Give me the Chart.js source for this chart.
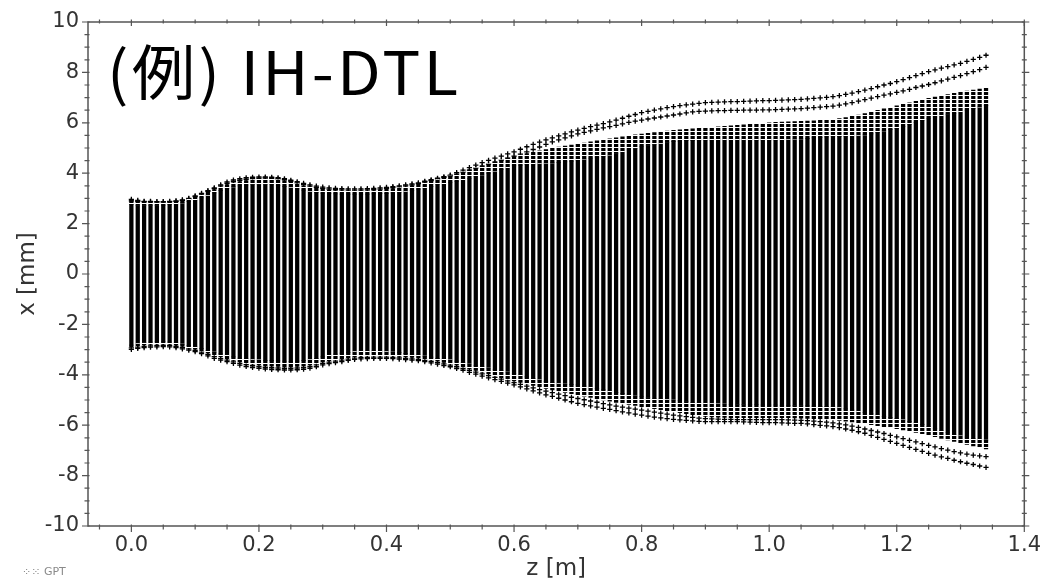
<!DOCTYPE html>
<html>
<head>
<meta charset="utf-8">
<script src="https://cdn.jsdelivr.net/npm/chart.js@4.4.1/dist/chart.umd.min.js"></script>
<style>
  html, body { margin: 0; padding: 0; background: #fff; }
  #wrap { position: relative; width: 1048px; height: 583px; }
  #title { position: absolute; left: 107px; top: 39px; font-family: "Noto Sans CJK JP", "Noto Sans", sans-serif;
           font-size: 60px; line-height: 1; color: #000; white-space: nowrap; letter-spacing: 3px;
           transform: scaleX(1.06); transform-origin: left top; }
  #logo { position: absolute; left: 22px; top: 565px; font: 11px "DejaVu Sans", sans-serif; color: #8a8a8a; white-space: nowrap; }
</style>
</head>
<body>
<div id="wrap">
  <canvas id="chart" width="1048" height="583"></canvas>
  <div id="title">(例) IH-DTL</div>
  <div id="logo">⁘⁙ GPT</div>
</div>
<script>
// z steps of the tracked bunch, one column every 0.01 m from z = 0
const zStep = 0.01;

// solid core of each column, x [mm]
const coreTop = [
  2.75, 2.72, 2.72, 2.72, 2.72, 2.73, 2.75, 2.78, 2.82, 2.88,
  2.94, 3.02, 3.12, 3.22, 3.32, 3.40, 3.46, 3.50, 3.53, 3.55,
  3.55, 3.55, 3.54, 3.52, 3.48, 3.44, 3.38, 3.33, 3.28, 3.24,
  3.21, 3.19, 3.18, 3.17, 3.17, 3.17, 3.17, 3.17, 3.18, 3.19,
  3.20, 3.22, 3.25, 3.28, 3.32, 3.37, 3.42, 3.48, 3.54, 3.58,
  3.62, 3.68, 3.74, 3.80, 3.86, 3.93, 4.00, 4.08, 4.15, 4.22,
  4.29, 4.32, 4.35, 4.37, 4.39, 4.40, 4.41, 4.42, 4.45, 4.48,
  4.52, 4.56, 4.60, 4.64, 4.68, 4.72, 4.78, 4.85, 4.92, 4.98,
  5.05, 5.10, 5.14, 5.18, 5.22, 5.25, 5.27, 5.29, 5.30, 5.31,
  5.32, 5.32, 5.33, 5.33, 5.33, 5.33, 5.33, 5.33, 5.32, 5.32,
  5.32, 5.32, 5.33, 5.34, 5.35, 5.36, 5.38, 5.40, 5.42, 5.44,
  5.45, 5.46, 5.47, 5.49, 5.50, 5.52, 5.56, 5.62, 5.68, 5.73,
  5.78, 5.86, 5.94, 6.02, 6.10, 6.18, 6.23, 6.28, 6.33, 6.38,
  6.44, 6.50, 6.56, 6.62, 6.68
];
const coreBot = [
  -2.82, -2.76, -2.72, -2.70, -2.69, -2.69, -2.70, -2.73, -2.78, -2.84,
  -2.90, -2.96, -3.03, -3.10, -3.17, -3.23, -3.29, -3.34, -3.37, -3.40,
  -3.41, -3.43, -3.44, -3.45, -3.46, -3.47, -3.46, -3.44, -3.40, -3.35,
  -3.29, -3.23, -3.18, -3.14, -3.11, -3.08, -3.07, -3.06, -3.06, -3.07,
  -3.08, -3.10, -3.12, -3.15, -3.18, -3.22, -3.26, -3.30, -3.35, -3.38,
  -3.41, -3.46, -3.52, -3.57, -3.62, -3.68, -3.73, -3.78, -3.84, -3.89,
  -3.94, -4.01, -4.08, -4.14, -4.20, -4.27, -4.32, -4.35, -4.37, -4.39,
  -4.40, -4.45, -4.50, -4.55, -4.60, -4.65, -4.70, -4.75, -4.80, -4.84,
  -4.87, -4.90, -4.93, -4.96, -4.98, -5.00, -5.03, -5.06, -5.09, -5.11,
  -5.13, -5.14, -5.15, -5.16, -5.17, -5.18, -5.18, -5.19, -5.19, -5.20,
  -5.20, -5.20, -5.21, -5.21, -5.22, -5.22, -5.23, -5.24, -5.25, -5.25,
  -5.26, -5.30, -5.35, -5.40, -5.45, -5.50, -5.55, -5.60, -5.65, -5.69,
  -5.73, -5.79, -5.85, -5.91, -5.97, -6.04, -6.12, -6.20, -6.28, -6.36,
  -6.42, -6.47, -6.52, -6.56, -6.59
];

// edge of the dense marker fringe just outside the core
const fringeTop = [
  2.92, 2.85, 2.85, 2.85, 2.82, 2.82, 2.84, 2.86, 2.90, 2.96,
  3.05, 3.14, 3.24, 3.35, 3.46, 3.55, 3.62, 3.67, 3.71, 3.74,
  3.76, 3.77, 3.76, 3.74, 3.70, 3.64, 3.57, 3.50, 3.45, 3.40,
  3.36, 3.33, 3.31, 3.30, 3.29, 3.29, 3.29, 3.30, 3.31, 3.33,
  3.36, 3.39, 3.42, 3.46, 3.51, 3.56, 3.62, 3.68, 3.75, 3.82,
  3.89, 3.97, 4.05, 4.13, 4.21, 4.29, 4.37, 4.45, 4.53, 4.60,
  4.66, 4.72, 4.78, 4.84, 4.89, 4.94, 4.99, 5.04, 5.08, 5.12,
  5.16, 5.20, 5.24, 5.28, 5.32, 5.36, 5.40, 5.44, 5.48, 5.52,
  5.55, 5.58, 5.61, 5.64, 5.67, 5.70, 5.72, 5.74, 5.76, 5.78,
  5.80, 5.82, 5.84, 5.86, 5.88, 5.90, 5.92, 5.94, 5.96, 5.98,
  6.00, 6.02, 6.03, 6.04, 6.05, 6.06, 6.07, 6.08, 6.10, 6.12,
  6.14, 6.17, 6.21, 6.26, 6.31, 6.37, 6.43, 6.49, 6.55, 6.61,
  6.67, 6.73, 6.79, 6.85, 6.91, 6.97, 7.02, 7.07, 7.12, 7.17,
  7.22, 7.26, 7.30, 7.34, 7.38
];
const fringeBot = [
  -2.88, -2.84, -2.81, -2.79, -2.78, -2.78, -2.79, -2.82, -2.87, -2.92,
  -2.98, -3.05, -3.13, -3.21, -3.29, -3.36, -3.43, -3.49, -3.54, -3.58,
  -3.61, -3.64, -3.66, -3.67, -3.68, -3.68, -3.67, -3.65, -3.61, -3.55,
  -3.49, -3.44, -3.40, -3.36, -3.32, -3.28, -3.26, -3.25, -3.24, -3.24,
  -3.24, -3.25, -3.27, -3.29, -3.31, -3.34, -3.37, -3.41, -3.46, -3.51,
  -3.56, -3.62, -3.69, -3.76, -3.83, -3.90, -3.97, -4.04, -4.11, -4.18,
  -4.24, -4.30, -4.36, -4.42, -4.48, -4.54, -4.60, -4.65, -4.70, -4.75,
  -4.80, -4.85, -4.90, -4.95, -5.00, -5.05, -5.10, -5.14, -5.18, -5.22,
  -5.26, -5.30, -5.34, -5.38, -5.42, -5.46, -5.50, -5.54, -5.58, -5.62,
  -5.65, -5.67, -5.68, -5.69, -5.70, -5.70, -5.70, -5.70, -5.70, -5.70,
  -5.70, -5.70, -5.70, -5.70, -5.71, -5.72, -5.73, -5.74, -5.75, -5.76,
  -5.78, -5.81, -5.84, -5.87, -5.90, -5.94, -5.98, -6.02, -6.06, -6.10,
  -6.14, -6.19, -6.24, -6.29, -6.34, -6.40, -6.46, -6.52, -6.58, -6.64,
  -6.70, -6.76, -6.82, -6.88, -6.94
];

// outermost particle tracks (halo), upper side
const haloTop1 = [
  2.96, 2.92, 2.88, 2.88, 2.87, 2.87, 2.88, 2.90, 2.94, 3.00,
  3.10, 3.20, 3.31, 3.42, 3.54, 3.65, 3.73, 3.78, 3.82, 3.84,
  3.85, 3.85, 3.84, 3.82, 3.78, 3.72, 3.66, 3.60, 3.54, 3.49,
  3.45, 3.42, 3.40, 3.39, 3.38, 3.38, 3.38, 3.39, 3.40, 3.42,
  3.44, 3.47, 3.50, 3.54, 3.58, 3.62, 3.68, 3.74, 3.80, 3.86,
  3.92, 4.02, 4.12, 4.22, 4.32, 4.42, 4.51, 4.60, 4.68, 4.77,
  4.85, 4.95, 5.05, 5.14, 5.23, 5.32, 5.40, 5.48, 5.56, 5.64,
  5.71, 5.78, 5.85, 5.91, 5.97, 6.04, 6.11, 6.18, 6.26, 6.33,
  6.40, 6.45, 6.50, 6.55, 6.60, 6.64, 6.68, 6.71, 6.74, 6.77,
  6.80, 6.81, 6.82, 6.83, 6.84, 6.84, 6.85, 6.86, 6.87, 6.88,
  6.88, 6.89, 6.90, 6.91, 6.92, 6.93, 6.95, 6.97, 6.99, 7.01,
  7.04, 7.08, 7.13, 7.18, 7.24, 7.30, 7.36, 7.43, 7.50, 7.56,
  7.63, 7.71, 7.79, 7.87, 7.95, 8.03, 8.10, 8.17, 8.23, 8.30,
  8.36, 8.44, 8.52, 8.60, 8.68
];
const haloTop2 = [
  2.90, 2.88, 2.86, 2.86, 2.85, 2.85, 2.86, 2.88, 2.92, 2.98,
  3.07, 3.17, 3.28, 3.39, 3.50, 3.60, 3.67, 3.72, 3.76, 3.79,
  3.80, 3.81, 3.80, 3.78, 3.74, 3.68, 3.62, 3.55, 3.49, 3.44,
  3.40, 3.37, 3.35, 3.34, 3.33, 3.33, 3.33, 3.34, 3.35, 3.37,
  3.40, 3.43, 3.46, 3.50, 3.54, 3.59, 3.65, 3.71, 3.77, 3.83,
  3.89, 3.96, 4.04, 4.12, 4.20, 4.28, 4.36, 4.44, 4.52, 4.60,
  4.68, 4.76, 4.85, 4.94, 5.04, 5.14, 5.24, 5.32, 5.40, 5.48,
  5.56, 5.62, 5.68, 5.74, 5.80, 5.85, 5.90, 5.96, 6.02, 6.07,
  6.11, 6.15, 6.19, 6.23, 6.27, 6.31, 6.35, 6.39, 6.43, 6.45,
  6.46, 6.47, 6.48, 6.48, 6.49, 6.49, 6.50, 6.50, 6.50, 6.51,
  6.51, 6.52, 6.53, 6.54, 6.55, 6.56, 6.58, 6.60, 6.62, 6.64,
  6.66, 6.70, 6.75, 6.80, 6.86, 6.92, 6.98, 7.04, 7.10, 7.15,
  7.21, 7.27, 7.33, 7.40, 7.46, 7.52, 7.59, 7.66, 7.73, 7.80,
  7.87, 7.95, 8.03, 8.11, 8.20
];

// outermost particle tracks (halo), lower side
const haloBot1 = [
  -2.99, -2.95, -2.92, -2.90, -2.89, -2.88, -2.89, -2.92, -2.97, -3.02,
  -3.08, -3.16, -3.25, -3.35, -3.42, -3.48, -3.55, -3.62, -3.67, -3.71,
  -3.74, -3.77, -3.79, -3.80, -3.81, -3.81, -3.80, -3.78, -3.74, -3.68,
  -3.61, -3.56, -3.52, -3.48, -3.43, -3.39, -3.37, -3.36, -3.35, -3.35,
  -3.35, -3.36, -3.38, -3.40, -3.42, -3.44, -3.48, -3.53, -3.58, -3.63,
  -3.68, -3.75, -3.82, -3.90, -3.97, -4.05, -4.12, -4.19, -4.26, -4.33,
  -4.40, -4.48, -4.56, -4.64, -4.72, -4.80, -4.86, -4.93, -5.00, -5.07,
  -5.13, -5.18, -5.23, -5.28, -5.33, -5.37, -5.42, -5.47, -5.51, -5.56,
  -5.60, -5.64, -5.68, -5.71, -5.74, -5.77, -5.79, -5.81, -5.83, -5.85,
  -5.86, -5.86, -5.86, -5.86, -5.86, -5.86, -5.87, -5.88, -5.89, -5.90,
  -5.90, -5.90, -5.91, -5.92, -5.93, -5.93, -5.95, -5.98, -6.01, -6.03,
  -6.06, -6.10, -6.15, -6.20, -6.26, -6.32, -6.40, -6.48, -6.56, -6.64,
  -6.72, -6.80, -6.88, -6.96, -7.04, -7.12, -7.19, -7.26, -7.32, -7.39,
  -7.45, -7.51, -7.56, -7.62, -7.67
];
const haloBot2 = [
  -2.93, -2.90, -2.87, -2.85, -2.84, -2.83, -2.84, -2.87, -2.92, -2.97,
  -3.03, -3.10, -3.19, -3.28, -3.36, -3.42, -3.49, -3.55, -3.60, -3.64,
  -3.67, -3.70, -3.72, -3.73, -3.74, -3.74, -3.73, -3.71, -3.67, -3.61,
  -3.55, -3.50, -3.46, -3.42, -3.38, -3.34, -3.32, -3.31, -3.30, -3.30,
  -3.30, -3.31, -3.33, -3.35, -3.37, -3.40, -3.43, -3.47, -3.52, -3.57,
  -3.62, -3.68, -3.75, -3.82, -3.89, -3.96, -4.03, -4.10, -4.17, -4.24,
  -4.31, -4.38, -4.45, -4.52, -4.59, -4.65, -4.71, -4.77, -4.83, -4.89,
  -4.94, -4.99, -5.04, -5.09, -5.14, -5.19, -5.24, -5.28, -5.32, -5.36,
  -5.40, -5.44, -5.48, -5.52, -5.56, -5.60, -5.63, -5.66, -5.69, -5.72,
  -5.74, -5.75, -5.76, -5.77, -5.77, -5.78, -5.78, -5.78, -5.78, -5.78,
  -5.78, -5.78, -5.78, -5.79, -5.80, -5.81, -5.82, -5.84, -5.86, -5.88,
  -5.91, -5.95, -5.99, -6.04, -6.09, -6.15, -6.21, -6.27, -6.33, -6.40,
  -6.46, -6.53, -6.60, -6.66, -6.73, -6.80, -6.86, -6.93, -6.99, -7.05,
  -7.10, -7.15, -7.19, -7.22, -7.25
];

const xTickValues = [0.0, 0.2, 0.4, 0.6, 0.8, 1.0, 1.2, 1.4];
const yTickValues = [-10, -8, -6, -4, -2, 0, 2, 4, 6, 8, 10];

const zValues = coreTop.map((_, i) => +(i * zStep).toFixed(2));

function columns(lo, hi) {
  return zValues.map((z, i) => ({ x: z, y: [lo[i], hi[i]] }));
}
function track(v) {
  return zValues.map((z, i) => ({ x: z, y: v[i] }));
}

const canvas = document.getElementById('chart');
const ctx = canvas.getContext('2d');

// striped fill to mimic the stacked "+" markers around the core
function stripes() {
  const c = document.createElement('canvas');
  c.width = 1; c.height = 4;
  const g = c.getContext('2d');
  g.fillStyle = '#000'; g.fillRect(0, 0, 1, 3);
  g.fillStyle = '#fff'; g.fillRect(0, 3, 1, 1);
  return ctx.createPattern(c, 'repeat');
}
const fringeFill = stripes();

const tickFont = { family: 'DejaVu Sans', size: 21 };
const titleFont = { family: 'DejaVu Sans', size: 23 };
const axisColor = '#555';
const labelColor = '#333';
const colWidth = 3.6;

// frame box with major/minor ticks on all four sides
const framePlugin = {
  id: 'frame',
  afterDraw(chart) {
    const { ctx, chartArea: a, scales: { x, y } } = chart;
    ctx.save();
    ctx.strokeStyle = axisColor;
    ctx.lineWidth = 1.5;
    ctx.strokeRect(a.left, a.top, a.right - a.left, a.bottom - a.top);
    ctx.lineWidth = 1.2;
    ctx.beginPath();
    for (let k = -1; k <= 28; k++) {
      const px = x.getPixelForValue(k * 0.05);
      if (px < a.left || px > a.right + 0.5) continue;
      const len = k % 4 === 0 ? 6 : 3.5;
      ctx.moveTo(px, a.bottom - 1.5); ctx.lineTo(px, a.bottom + len);
      ctx.moveTo(px, a.top - 2.5); ctx.lineTo(px, a.top + len - 2);
    }
    for (let k = -20; k <= 20; k++) {
      const py = y.getPixelForValue(k * 0.5);
      const len = k % 4 === 0 ? 6 : 3.5;
      ctx.moveTo(a.left - len, py); ctx.lineTo(a.left + 1.5, py);
      ctx.moveTo(a.right - 2.5, py); ctx.lineTo(a.right + len - 1, py);
    }
    ctx.stroke();
    ctx.restore();
  }
};

const haloStyle = {
  type: 'line',
  showLine: false,
  pointStyle: 'cross',
  pointRadius: 2.6,
  pointBorderWidth: 1.3,
  borderColor: '#000',
  backgroundColor: '#000'
};

new Chart(ctx, {
  type: 'bar',
  data: {
    datasets: [
      { data: columns(coreTop, fringeTop), backgroundColor: fringeFill, barThickness: colWidth, grouped: false },
      { data: columns(fringeBot, coreBot), backgroundColor: fringeFill, barThickness: colWidth, grouped: false },
      { data: columns(coreBot, coreTop), backgroundColor: '#000', barThickness: colWidth, grouped: false },
      { ...haloStyle, data: track(haloTop2) },
      { ...haloStyle, data: track(haloTop1) },
      { ...haloStyle, data: track(haloBot2) },
      { ...haloStyle, data: track(haloBot1) }
    ]
  },
  options: {
    responsive: false,
    animation: false,
    events: [],
    layout: { autoPadding: false, padding: { top: 22, right: 14, left: 0, bottom: 0 } },
    plugins: { legend: { display: false }, tooltip: { enabled: false } },
    scales: {
      x: {
        type: 'linear',
        min: -0.068,
        max: 1.4,
        offset: false,
        grid: { display: false, drawTicks: false },
        border: { display: false },
        afterBuildTicks: s => { s.ticks = xTickValues.map(v => ({ value: v })); },
        afterFit: s => { s.height = 57; },
        ticks: {
          autoSkip: false, maxRotation: 0, padding: 7,
          color: labelColor, font: tickFont,
          callback: v => v.toFixed(1)
        },
        title: { display: true, text: 'z [m]', color: labelColor, font: titleFont, padding: { top: 0, bottom: 0 } }
      },
      y: {
        min: -10,
        max: 10,
        grid: { display: false, drawTicks: false },
        border: { display: false },
        afterBuildTicks: s => { s.ticks = yTickValues.map(v => ({ value: v })); },
        afterFit: s => { s.width = 88; },
        ticks: {
          padding: 9,
          color: labelColor, font: tickFont,
          callback: v => String(v)
        },
        title: { display: true, text: 'x [mm]', color: labelColor, font: titleFont, padding: { top: 14, bottom: 0 } }
      }
    }
  },
  plugins: [framePlugin]
});
</script>
</body>
</html>
